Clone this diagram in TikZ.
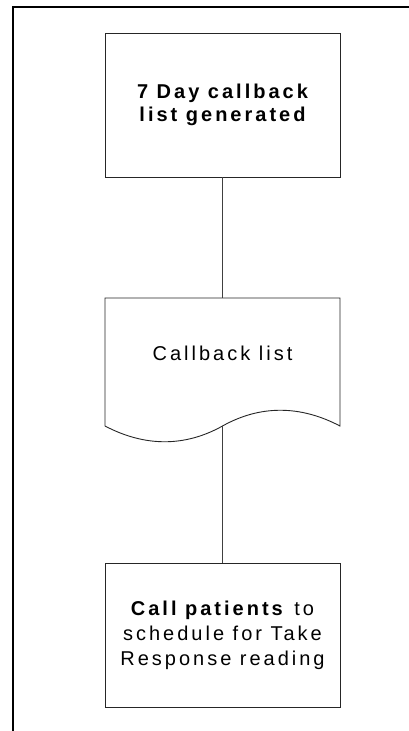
\documentclass[tikz,border=0pt]{standalone}
\usepackage{fontspec}
\setmainfont{Liberation Sans}[LetterSpace=15]
\begin{document}
\begin{tikzpicture}[x=1pt,y=-1pt,
  every node/.style={inner sep=0pt, outer sep=0pt},
  procbox/.style={draw=black!85, line width=0.9pt, minimum width=235pt, minimum height=144pt, align=center, text=black},
  docnode/.style={minimum width=235pt, minimum height=128pt},
  link/.style={draw=black!75, line width=0.9pt},
  frame/.style={draw=black, line width=2pt}]
\useasboundingbox (0,0) rectangle (409,731);
\draw[frame] (13,740) -- (13,7) -- (415,7);
\node[procbox, font={\fontsize{20}{23.5}\selectfont\bfseries}] (b1) at (222.5,105) {7 Day callback\\list generated};
\node[docnode] (doc) at (222.5,362) {};
\draw[draw=black!85, line width=0.9pt] (doc.south west) -- (doc.north west) -- (doc.north east) -- (doc.south east)
  .. controls (300,405) and (260,405) .. (doc.south)
  .. controls (185,447) and (145,447) .. (doc.south west);
\node[font={\fontsize{20}{24}\selectfont}] (doclabel) at (222.5,353) {Callback list};
\node[procbox, font={\fontsize{20}{25}\selectfont}] (b3) at (222.5,635) {\textbf{Call patients} to\\schedule for Take\\Response reading};
\draw[link] (b1.south) -- (doc.north);
\draw[link] (doc.south) -- (b3.north);
\end{tikzpicture}
\end{document}
